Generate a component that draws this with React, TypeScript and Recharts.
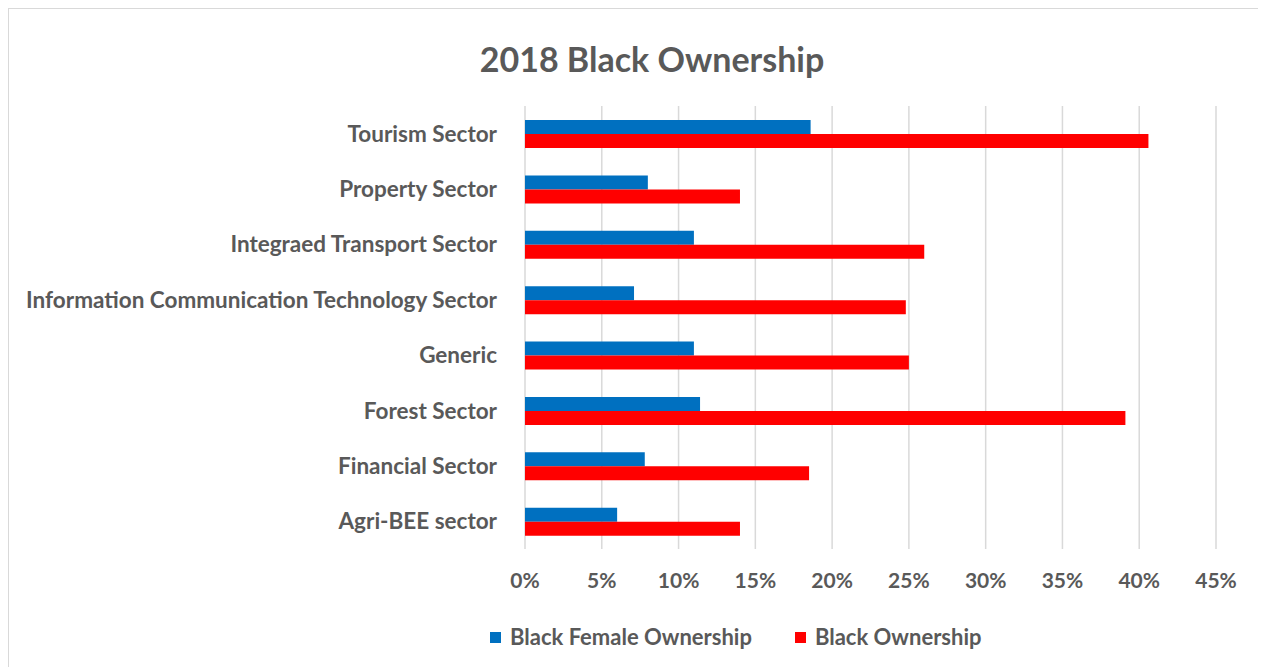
import React from "react";
import { BarChart, Bar, XAxis, YAxis, CartesianGrid, Legend } from "recharts";

// categories top to bottom as shown in the chart
const sectors = [
  "Tourism Sector",
  "Property Sector",
  "Integraed Transport Sector",
  "Information Communication Technology Sector",
  "Generic",
  "Forest Sector",
  "Financial Sector",
  "Agri-BEE sector",
];

// values in percent
const blackFemaleOwnership = [18.6, 8.0, 11.0, 7.1, 11.0, 11.4, 7.8, 6.0];
const blackOwnership = [40.6, 14.0, 26.0, 24.8, 25.0, 39.1, 18.5, 14.0];

const xTicks = [0, 5, 10, 15, 20, 25, 30, 35, 40, 45];

const data = sectors.map((name, i) => ({
  name,
  female: blackFemaleOwnership[i],
  total: blackOwnership[i],
}));

const FONT = "Lato, 'Open Sans', sans-serif";
const TEXT = "#595959";

const LegendContent = (props: any) => {
  const items = props.payload || [];
  return (
    <div style={{ display: "flex", alignItems: "center", paddingLeft: 481 }}>
      {items.map((it: any, i: number) => (
        <div
          key={`leg-${i}`}
          style={{ display: "flex", alignItems: "center", marginRight: 43 }}
        >
          <span
            style={{
              display: "inline-block",
              width: 11,
              height: 11,
              background: it.color,
              marginRight: 9,
            }}
          />
          <span
            style={{
              fontFamily: FONT,
              fontWeight: 700,
              fontSize: 22,
              color: TEXT,
              lineHeight: "26px",
            }}
          >
            {it.value}
          </span>
        </div>
      ))}
    </div>
  );
};

const App: React.FC = () => {
  return (
    <div
      style={{
        position: "relative",
        width: 1256,
        height: 660,
        border: "1px solid #d9d9d9",
        background: "#fff",
      }}
    >
      <div
        style={{
          position: "absolute",
          top: 33,
          left: 0,
          width: 1256,
          paddingLeft: 30,
          boxSizing: "border-box",
          textAlign: "center",
          fontFamily: FONT,
          fontWeight: 700,
          fontSize: 34,
          lineHeight: "34px",
          color: TEXT,
        }}
      >
        2018 Black Ownership
      </div>
      <BarChart
        width={1256}
        height={658}
        data={data}
        layout="vertical"
        margin={{ top: 97, right: 49, bottom: 0, left: 0 }}
        barGap={0}
      >
        <CartesianGrid horizontal={false} stroke="#d9d9d9" strokeWidth={1.5} />
        <XAxis
          type="number"
          domain={[0, 45]}
          ticks={xTicks}
          tickFormatter={(v: number) => `${v}%`}
          axisLine={false}
          tickLine={false}
          tickSize={0}
          tickMargin={24}
          height={118}
          interval={0}
          tick={{ fill: TEXT, fontSize: 21, fontWeight: 700, fontFamily: FONT }}
        />
        <YAxis
          type="category"
          dataKey="name"
          width={516}
          axisLine={false}
          tickLine={false}
          tickSize={0}
          tickMargin={28}
          interval={0}
          tick={{ fill: TEXT, fontSize: 22.5, fontWeight: 700, fontFamily: FONT }}
        />
        <Legend
          layout="horizontal"
          verticalAlign="middle"
          align="center"
          wrapperStyle={{ top: 615, left: 0, width: 1256, height: 26 }}
          content={<LegendContent />}
        />
        <Bar
          dataKey="female"
          name="Black Female Ownership"
          fill="#0070C0"
          barSize={14}
          isAnimationActive={false}
        />
        <Bar
          dataKey="total"
          name="Black Ownership"
          fill="#FF0000"
          barSize={14}
          isAnimationActive={false}
        />
      </BarChart>
    </div>
  );
};

export default App;
